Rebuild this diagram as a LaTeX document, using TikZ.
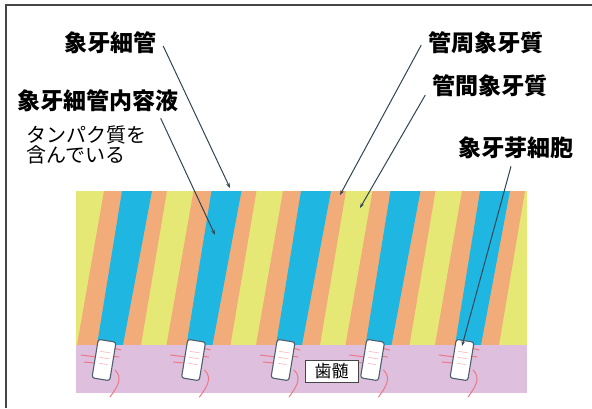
\documentclass[tikz,border=0pt]{standalone}
\usepackage{fontspec}
\newfontfamily\jp{Noto Sans CJK JP}
\usetikzlibrary{arrows.meta}

\definecolor{dentinY}{RGB}{230,232,118}
\definecolor{periO}{RGB}{242,172,122}
\definecolor{tubuleB}{RGB}{32,182,226}
\definecolor{pulpP}{RGB}{222,192,222}
\definecolor{nerveR}{RGB}{240,112,122}
\definecolor{leaderC}{RGB}{48,70,82}
\definecolor{frameC}{RGB}{70,70,70}
\definecolor{cellC}{RGB}{80,95,110}

\tikzset{
  lab/.style={font=\jp\bfseries\fontsize{23}{27}\selectfont, inner xsep=7pt, inner ysep=3pt, fill=white},
  note/.style={font=\jp\fontsize{20}{20}\selectfont, align=left, inner sep=2pt, anchor=north west},
  leader/.style={draw=leaderC, line width=1pt, -{Stealth[length=5pt,width=3.6pt]}},
  cellbox/.style={draw=cellC, fill=white, line width=1.1pt, rounded corners=2.5pt,
    minimum width=18pt, minimum height=39pt, inner sep=0pt},
  nerve/.style={draw=nerveR, line width=1pt, opacity=0.9, line cap=round},
  pulpbox/.style={draw=frameC, fill=white, line width=0.9pt, font=\jp\fontsize{17}{18}\selectfont,
    minimum width=53pt, minimum height=22pt, inner sep=0pt}
}

\begin{document}
\begin{tikzpicture}[x=1pt, y=-1pt]
\useasboundingbox (0,0) rectangle (592,408);
\fill[white] (0,0) rectangle (592,408);

% outer frame (left and top edges)
\draw[frameC, line width=1.4pt] (6,408) -- (6,5) -- (592,5);

% dentin band with slanted tubules
\fill[dentinY] (76,191) rectangle (527,345);
\begin{scope}
  \clip (76,191) rectangle (527,345);
  \foreach \b in {122,211.5,301,390.5,480} {
    \fill[periO] (\b-18,191) -- (\b+45,191) -- (\b+19,345) -- (\b-45,345) -- cycle;
    \fill[tubuleB] (\b,191) -- (\b+30,191) -- (\b+1,345) -- (\b-25,345) -- cycle;
  }
\end{scope}

% pulp band
\fill[pulpP] (76,345) rectangle (527,393);

% odontoblasts with their processes
\foreach \b [count=\i] in {122,211.5,301,390.5,480} {
  \begin{scope}[shift={(\b-18,360)}]
    \draw[nerve] (-23,-5) -- (-7,-3);
    \draw[nerve] (-20,2) -- (-9,3);
    \draw[nerve] (9,-12) -- (17,-10);
    \draw[nerve] (8,-4) -- (15,-3);
    \draw[nerve] (11,10) .. controls (19,18) and (14,26) .. (6,37);
  \end{scope}
  \node[cellbox, rotate=-9.3] (cell\i) at (\b-18,360) {};
  \begin{scope}[shift={(\b-18,360)}, rotate=-9.3]
    \draw[nerve, opacity=0.45, line width=0.7pt] (-5,-8) -- (5,-8);
    \draw[nerve, opacity=0.45, line width=0.7pt] (-5,-2) -- (5,-2);
    \draw[nerve, opacity=0.45, line width=0.7pt] (-4,4) -- (4,4);
  \end{scope}
}

\node[pulpbox] (pulp) at (331.5,371.5) {歯髄};

% labels
\node[lab] (tubule) at (110,43) {象牙細管};
\node[lab] (fluid) at (98,101) {象牙細管内容液};
\node[note] (protein) at (24,124) {タンパク質を\\含んでいる};
\node[lab] (peri) at (486,43) {管周象牙質};
\node[lab] (inter) at (490,86) {管間象牙質};
\node[lab] (odonto) at (516,148) {象牙芽細胞};

% pointer targets
\coordinate (tubuleTip) at (230,188);
\coordinate (fluidTip) at (215,235);
\coordinate (periTip) at (340,195);
\coordinate (interTip) at (360,208);
\coordinate (odontoTip) at (462,346);

% leaders
\draw[leader] ([yshift=-3pt]tubule.east) -- (tubuleTip);
\draw[leader] ([xshift=-25pt,yshift=-3pt]fluid.south east) -- (fluidTip);
\draw[leader] ([yshift=-2pt]peri.west) -- (periTip);
\draw[leader] ([yshift=-9pt]inter.west) -- (interTip);
\draw[leader] ([xshift=-5pt,yshift=-4pt]odonto.south) -- (odontoTip);
\end{tikzpicture}
\end{document}
